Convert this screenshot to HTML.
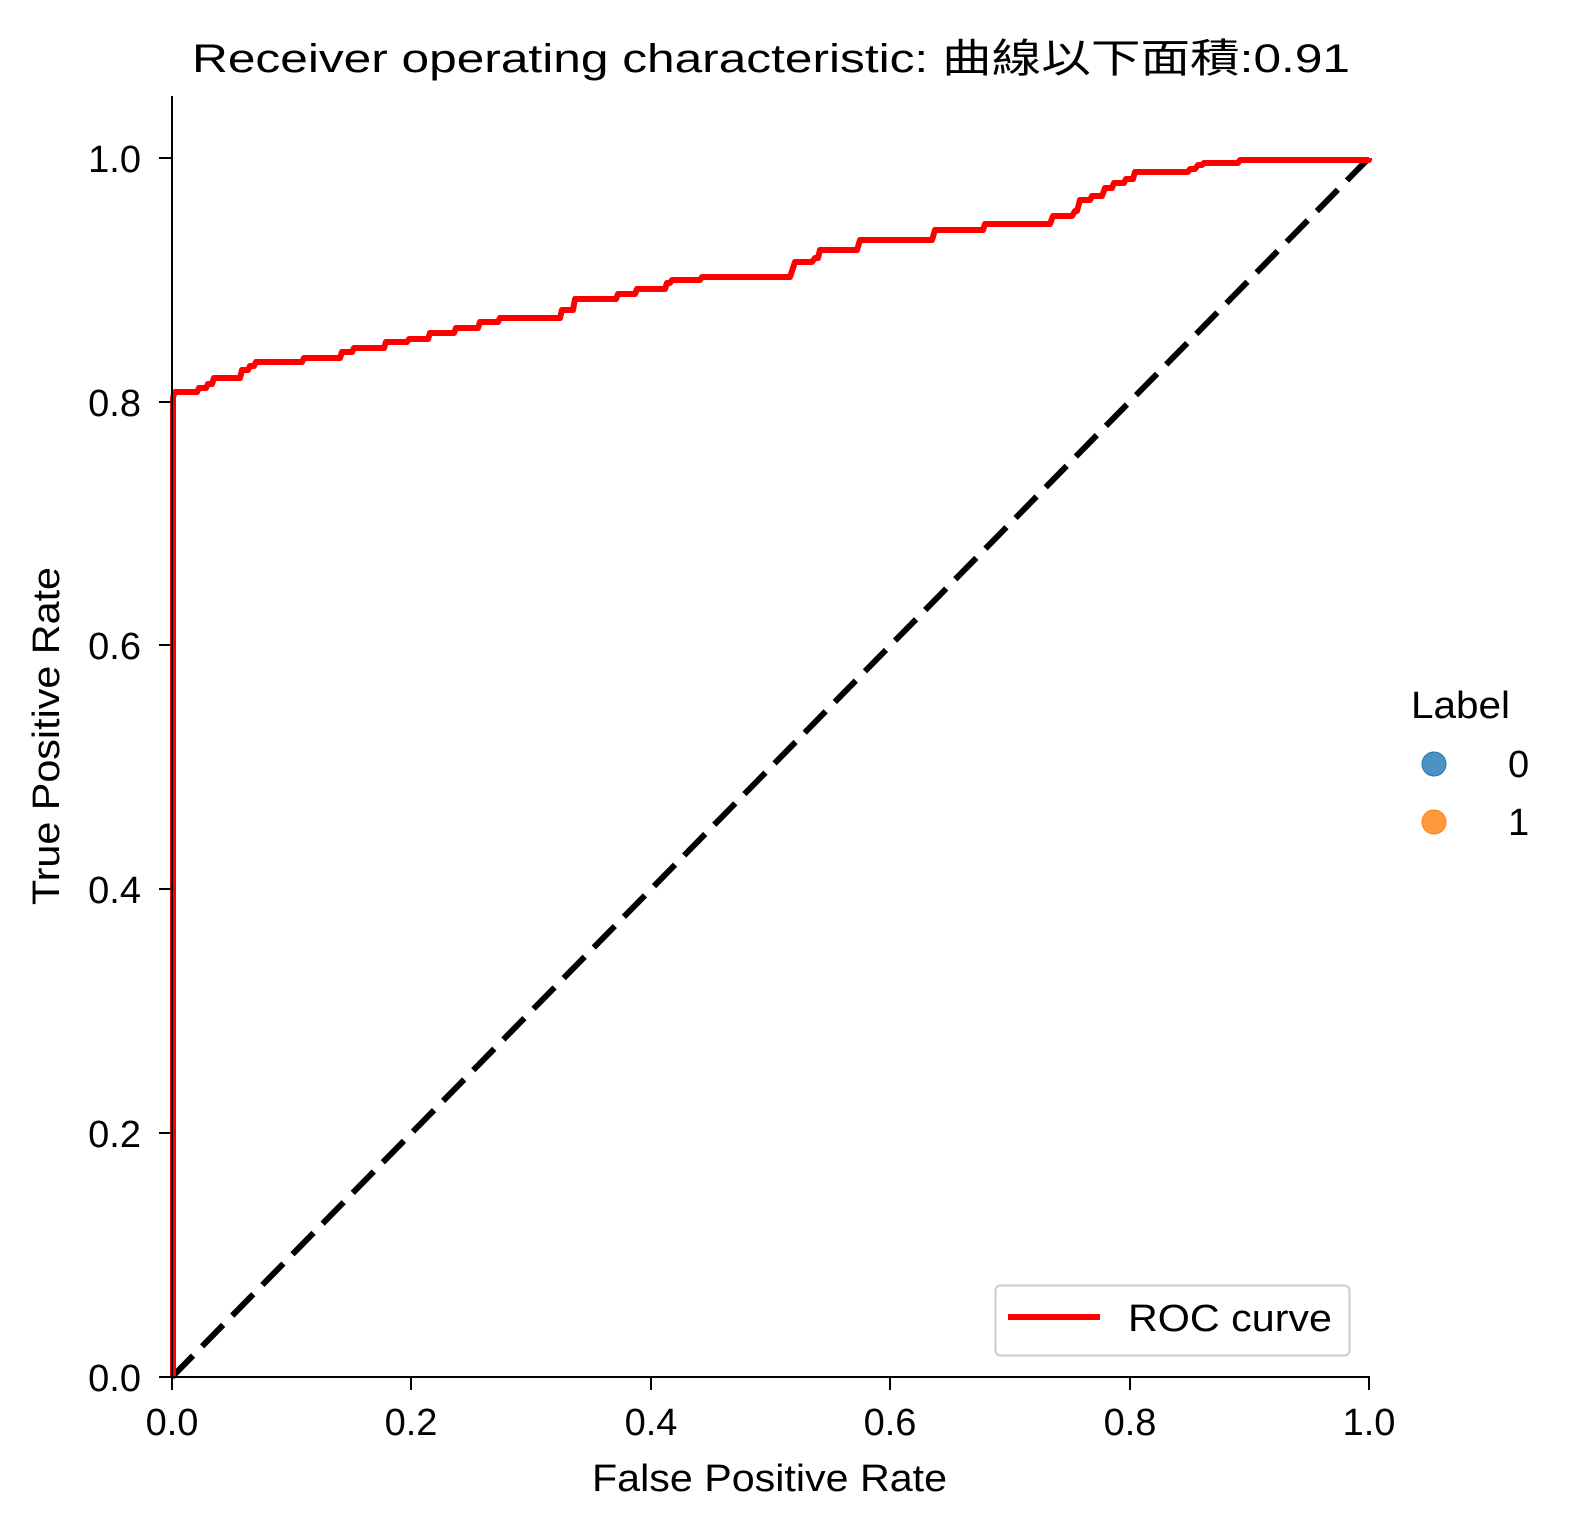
<!DOCTYPE html>
<html><head><meta charset="utf-8"><style>
html,body{margin:0;padding:0;background:#fff;}
svg text{font-family:"Liberation Sans","Noto Sans CJK TC",sans-serif;fill:#000;}
</style></head><body>
<svg width="1575" height="1535" viewBox="0 0 1575 1535" xmlns="http://www.w3.org/2000/svg">
<rect width="1575" height="1535" fill="#fff"/>
<text x="192" y="72" font-size="40" textLength="1158" lengthAdjust="spacingAndGlyphs">Receiver operating characteristic: 曲線以下面積:0.91</text>
<line x1="172" y1="1377" x2="1369" y2="158" stroke="#000" stroke-width="6" stroke-dasharray="30,13"/>
<polyline fill="none" stroke="#ff0000" stroke-width="6" stroke-linejoin="round" points="
173,1377 173,397 175,392 197,392 199,388 206,388 208,384 212,384 214,378 240,378 242,370 248,370 250,366 254,366 256,362 302,362 304,358 340,358 342,352 352,352 354,348 384,348 386,342 407,342 409,339 428,339 430,333 454,333 456,328 478,328 480,322 498,322 500,318 560,318 562,310 573,310 575,299 616,299 618,294 635,294 637,289 665,289 667,283 670,283 672,280 700,280 702,277 790,277 795,262 812,262 815,258 818,258 820,250 857,250 860,240 932,240 935,230 983,230 985,224 1050,224 1053,216 1072,216 1075,211 1077,211 1080,200 1090,200 1092,196 1102,196 1105,188 1112,188 1114,183 1124,183 1126,179 1133,179 1135,172 1188,172 1190,169 1195,169 1198,165 1202,165 1204,163 1238,163 1240,160 1369,160 1369,158"/>
<line x1="172" y1="96" x2="172" y2="1378" stroke="#000" stroke-width="2"/>
<line x1="171" y1="1377" x2="1370" y2="1377" stroke="#000" stroke-width="2"/>
<g stroke="#000" stroke-width="2">
<line x1="159" y1="1377" x2="172" y2="1377"/><line x1="159" y1="1133" x2="172" y2="1133"/><line x1="159" y1="889" x2="172" y2="889"/><line x1="159" y1="645" x2="172" y2="645"/><line x1="159" y1="402" x2="172" y2="402"/><line x1="159" y1="158" x2="172" y2="158"/>
<line x1="172" y1="1377" x2="172" y2="1390"/><line x1="411" y1="1377" x2="411" y2="1390"/><line x1="651" y1="1377" x2="651" y2="1390"/><line x1="890" y1="1377" x2="890" y2="1390"/><line x1="1130" y1="1377" x2="1130" y2="1390"/><line x1="1369" y1="1377" x2="1369" y2="1390"/>
</g>
<g font-size="38" text-anchor="end">
<text x="141" y="1391">0.0</text><text x="141" y="1147">0.2</text><text x="141" y="903">0.4</text><text x="141" y="659">0.6</text><text x="141" y="416">0.8</text><text x="141" y="172">1.0</text>
</g>
<g font-size="38" text-anchor="middle">
<text x="172" y="1435">0.0</text><text x="411" y="1435">0.2</text><text x="651" y="1435">0.4</text><text x="890" y="1435">0.6</text><text x="1130" y="1435">0.8</text><text x="1369" y="1435">1.0</text>
</g>
<text x="592" y="1491" font-size="38" textLength="355" lengthAdjust="spacingAndGlyphs">False Positive Rate</text>
<text transform="translate(59,905) rotate(-90)" font-size="38" textLength="338" lengthAdjust="spacingAndGlyphs">True Positive Rate</text>
<rect x="995.5" y="1285.5" width="354" height="70" rx="5" fill="#fff" stroke="#ccc" stroke-width="2"/>
<line x1="1008" y1="1317" x2="1100" y2="1317" stroke="#ff0000" stroke-width="6"/>
<text x="1128" y="1331" font-size="38" textLength="204" lengthAdjust="spacingAndGlyphs">ROC curve</text>
<text x="1411" y="718" font-size="38" textLength="99" lengthAdjust="spacingAndGlyphs">Label</text>
<circle cx="1434" cy="764" r="12" fill="#1f77b4" fill-opacity="0.8" stroke="#1f77b4"/>
<circle cx="1434" cy="822" r="12" fill="#ff7f0e" fill-opacity="0.8" stroke="#ff7f0e"/>
<text x="1508" y="777" font-size="38">0</text>
<text x="1508" y="835" font-size="38">1</text>
</svg>
</body></html>
